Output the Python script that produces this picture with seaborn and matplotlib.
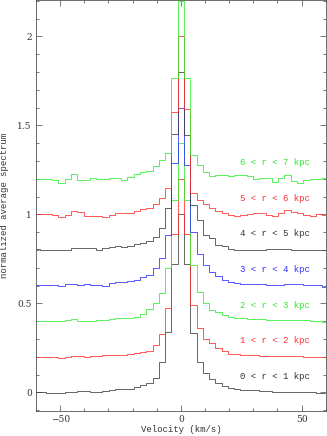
import numpy as np
import pandas as pd
import matplotlib
matplotlib.use("Agg")
import matplotlib.pyplot as plt
import seaborn as sns
from matplotlib.ticker import MultipleLocator, FixedLocator

# ---------------- data ----------------
channel_width = 2.6          # km/s
channel_index = np.arange(-23, 24)
velocity = channel_width * channel_index

ring_labels = ["0 < r < 1 kpc", "1 < r < 2 kpc", "2 < r < 3 kpc", "3 < r < 4 kpc",
               "4 < r < 5 kpc", "5 < r < 6 kpc", "6 < r < 7 kpc"]
offsets = [0.0, 0.2, 0.4, 0.6, 0.8, 1.0, 1.2]
line_colors = ["#3a3a3a", "#ff2a2a", "#2aef2a", "#2a2aff", "#3a3a3a", "#ff2a2a", "#2aef2a"]
text_colors = ["#333333", "#ff3030", "#30e830", "#3030ff", "#333333", "#ff3030", "#30e830"]

spec_0_1 = [0.0, 0.0, -0.002, -0.002, -0.002, 0.004, 0.004, 0.009, 0.009, 0.004, 0.004, 0.009,
            0.013, 0.017, 0.017, 0.019, 0.028, 0.04, 0.054, 0.08, 0.169, 0.34, 0.72,
            1.0,
            0.72, 0.335, 0.169, 0.107, 0.073, 0.05, 0.035, 0.022, 0.017, 0.013, 0.015, 0.013,
            0.009, 0.005, 0.003, 0.003, 0.003, 0.004, 0.003, 0.003, 0.003, -0.002, -0.002]
spec_1_2 = [0.0, 0.0, 0.0, 0.0, -0.009, -0.004, 0.004, 0.004, 0.0, 0.004, 0.004, 0.01,
            0.01, 0.01, 0.012, 0.015, 0.02, 0.025, 0.035, 0.065, 0.13, 0.272, 0.69,
            1.0,
            0.69, 0.29, 0.16, 0.10, 0.075, 0.05, 0.03, 0.018, 0.013, 0.01, 0.01, 0.008,
            0.004, 0.004, 0.004, 0.004, 0.002, 0.002, 0.002, -0.003, -0.003, -0.003, -0.003]
spec_2_3 = [0.0, 0.0, 0.0, 0.0, 0.0, 0.006, 0.01, 0.0, 0.0, 0.0, 0.006, 0.006,
            0.01, 0.016, 0.016, 0.018, 0.025, 0.04, 0.068, 0.1, 0.156, 0.297, 0.68,
            1.0,
            0.68, 0.315, 0.165, 0.1, 0.062, 0.053, 0.035, 0.021, 0.018, 0.016, 0.013, 0.013,
            0.013, 0.006, 0.006, 0.006, 0.006, 0.006, 0.004, 0.004, 0.0, 0.0, -0.003]
spec_3_4 = [0.003, 0.003, 0.003, 0.003, -0.003, 0.007, 0.007, 0.003, 0.007, 0.003, 0.003, -0.003,
            0.012, 0.021, 0.021, 0.027, 0.032, 0.046, 0.059, 0.097, 0.153, 0.284, 0.687,
            1.0,
            0.677, 0.3, 0.18, 0.115, 0.078, 0.053, 0.03, 0.02, 0.013, 0.01, 0.007, 0.007,
            0.007, 0.005, 0.005, 0.005, 0.007, 0.007, 0.007, 0.001, 0.001, 0.001, -0.007]
spec_4_5 = [0.004, 0.0, 0.0, 0.0, 0.0, 0.0, 0.009, 0.009, 0.009, 0.009, 0.0, 0.009,
            0.018, 0.022, 0.015, 0.02, 0.035, 0.04, 0.052, 0.074, 0.121, 0.234, 0.65,
            1.0,
            0.646, 0.25, 0.168, 0.084, 0.065, 0.03, 0.025, 0.005, 0.0, 0.0, 0.0, 0.0,
            0.0, 0.003, 0.006, 0.006, 0.003, -0.002, 0.0, 0.0, 0.0, 0.0, 0.0]
spec_5_6 = [0.002, 0.002, 0.0, -0.004, -0.017, -0.004, 0.019, 0.013, -0.01, -0.01, -0.01, -0.017,
            -0.004, 0.006, 0.006, 0.01, 0.021, 0.029, 0.034, 0.058, 0.09, 0.15, 0.576,
            1.0,
            0.59, 0.121, 0.08, 0.058, 0.034, 0.021, 0.006, -0.004, -0.01, -0.004, 0.0, 0.006,
            0.009, -0.004, -0.01, 0.006, 0.024, 0.015, 0.006, -0.004, -0.007, 0.002, -0.004]
spec_6_7 = [0.0, 0.0, 0.0, -0.007, -0.026, 0.0, 0.025, -0.007, -0.007, 0.006, 0.0, -0.004,
            0.006, 0.002, -0.007, 0.011, 0.027, 0.036, 0.045, 0.073, 0.105, 0.143, 0.567,
            1.0,
            0.567, 0.133, 0.077, 0.036, 0.015, 0.02, 0.02, 0.015, 0.021, 0.02, 0.015, -0.003,
            0.006, 0.006, -0.017, 0.002, 0.019, -0.01, -0.026, -0.007, -0.003, -0.003, 0.002]

spectra = [spec_0_1, spec_1_2, spec_2_3, spec_3_4, spec_4_5, spec_5_6, spec_6_7]

x_ticks = [-50, 0, 50]
x_ticklabels = ["\u221250", "0", "50"]
y_ticks = [0, 0.5, 1, 1.5, 2]
y_ticklabels = ["0", "0.5", "1", "1.5", "2"]

# ---------------- build table ----------------
frames = []
for lab, off, spec in zip(ring_labels, offsets, spectra):
    frames.append(pd.DataFrame({"velocity": velocity,
                                "flux": np.asarray(spec) + off,
                                "ring": lab}))
df = pd.concat(frames, ignore_index=True)

# ---------------- plot ----------------
sns.set_style("ticks")
plt.rcParams["font.family"] = ["DejaVu Serif"]

fig = plt.figure(figsize=(3.27, 4.36), dpi=100)
ax = fig.add_axes([0.110, 0.058, 0.886, 0.942])

sns.lineplot(data=df, x="velocity", y="flux", hue="ring", hue_order=ring_labels,
             palette=dict(zip(ring_labels, line_colors)), drawstyle="steps-mid",
             linewidth=0.55, estimator=None, legend=False, ax=ax)

ax.set_xlim(-60, 60)
ax.set_ylim(-0.103, 2.204)

ax.xaxis.set_major_locator(FixedLocator(x_ticks))
ax.set_xticklabels(x_ticklabels)
ax.xaxis.set_minor_locator(MultipleLocator(10))
ax.yaxis.set_major_locator(FixedLocator(y_ticks))
ax.set_yticklabels(y_ticklabels)
ax.yaxis.set_minor_locator(MultipleLocator(0.1))

ax.tick_params(which="both", direction="in", top=True, right=True, color="#555555",
               width=0.55, labelsize=6.5, labelcolor="#333333", pad=3)
ax.tick_params(which="major", length=4.2)
ax.tick_params(which="minor", length=2.3)
for s in ax.spines.values():
    s.set_linewidth(0.6)
    s.set_color("#555555")

ax.set_xlabel("Velocity (km/s)", fontsize=6.5, color="#333333", labelpad=1,
              family=["Liberation Mono"])
ax.set_ylabel("normalized average spectrum", fontsize=6.5, color="#333333", labelpad=6,
              family=["Liberation Mono"])

for lab, off, col in zip(ring_labels, offsets, text_colors):
    ax.text(38.8, off + 0.09, lab, color=col, fontsize=6.5, ha="center", va="center",
            family=["Liberation Mono"])

fig.savefig("out.png", dpi=100)
